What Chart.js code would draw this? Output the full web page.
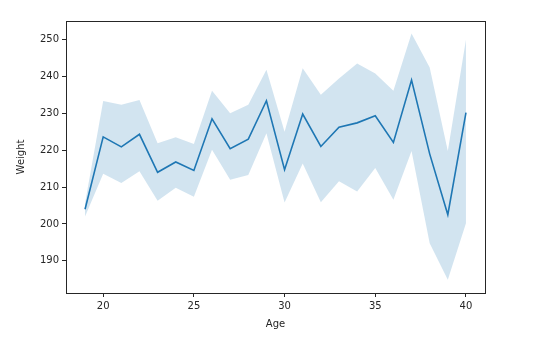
<!DOCTYPE html>
<html>
<head>
<meta charset="utf-8">
<script src="https://cdn.jsdelivr.net/npm/chart.js@4/dist/chart.umd.min.js"></script>
<style>
  html, body { margin: 0; padding: 0; background: #fff; }
  #wrap { width: 551px; height: 342px; }
</style>
</head>
<body>
<div id="wrap"><canvas id="c" width="551" height="342"></canvas></div>
<script>
// Age on x, mean weight with its confidence band
const ages = [19, 20, 21, 22, 23, 24, 25, 26, 27, 28, 29, 30, 31, 32, 33, 34, 35, 36, 37, 38, 39, 40];
const meanWeight = [204.0, 223.6, 220.9, 224.3, 214.0, 216.8, 214.5, 228.5, 220.4, 223.0, 233.4, 214.7, 229.8, 221.0, 226.2, 227.4, 229.3, 222.1, 239.0, 219.0, 202.5, 230.2];
const ciUpper = [205.6, 233.3, 232.3, 233.6, 221.9, 223.5, 221.7, 236.1, 230.0, 232.3, 241.8, 225.0, 242.2, 235.0, 239.4, 243.5, 240.8, 236.1, 251.6, 242.4, 219.8, 249.9];
const ciLower = [202.0, 213.6, 211.1, 214.3, 206.3, 209.8, 207.4, 220.1, 212.0, 213.3, 224.6, 205.8, 216.4, 205.9, 211.6, 208.8, 215.2, 206.6, 219.8, 194.8, 184.9, 200.2];
const xTicks = [20, 25, 30, 35, 40];
const yTicks = [190, 200, 210, 220, 230, 240, 250];

const pts = arr => ages.map((a, i) => ({ x: a, y: arr[i] }));
const ink = '#262626';
const font = { family: 'DejaVu Sans', size: 10 };

const frame = {
  id: 'frame',
  afterDraw(chart) {
    const { ctx, chartArea: a } = chart;
    ctx.save();
    ctx.strokeStyle = ink;
    ctx.lineWidth = 1;
    ctx.strokeRect(Math.round(a.left) + 0.5, Math.round(a.top) + 0.5,
                   Math.round(a.right - a.left), Math.round(a.bottom - a.top));
    ctx.restore();
  }
};

new Chart(document.getElementById('c'), {
  type: 'line',
  data: {
    datasets: [
      { data: pts(ciUpper), borderWidth: 0, borderColor: 'rgba(0,0,0,0)', pointRadius: 0,
        backgroundColor: 'rgba(31,119,180,0.2)', fill: '+1', tension: 0 },
      { data: pts(ciLower), borderWidth: 0, borderColor: 'rgba(0,0,0,0)', pointRadius: 0,
        fill: false, tension: 0 },
      { data: pts(meanWeight), borderColor: '#1f77b4', borderWidth: 1.6, pointRadius: 0,
        fill: false, tension: 0 }
    ]
  },
  options: {
    responsive: false,
    animation: false,
    events: [],
    layout: { padding: { left: 0, top: 21, right: 66, bottom: 0 } },
    plugins: { legend: { display: false }, tooltip: { enabled: false } },
    scales: {
      x: {
        type: 'linear', min: 17.95, max: 41.05,
        afterBuildTicks: s => { s.ticks = xTicks.map(v => ({ value: v })); },
        afterFit: s => { s.height = 49; },
        grid: { drawOnChartArea: false, tickLength: 4, color: ink, tickWidth: 1 },
        border: { display: true, color: ink, width: 1 },
        ticks: { color: ink, font, padding: 3, maxRotation: 0, autoSkip: false },
        title: { display: true, text: 'Age', color: ink, font, padding: { top: 0, bottom: 12 } }
      },
      y: {
        type: 'linear', min: 181.3, max: 255.0,
        afterBuildTicks: s => { s.ticks = yTicks.map(v => ({ value: v })); },
        afterFit: s => { s.width = 66; },
        grid: { drawOnChartArea: false, tickLength: 4, color: ink, tickWidth: 1 },
        border: { display: true, color: ink, width: 1 },
        ticks: { color: ink, font, padding: 3, autoSkip: false },
        title: { display: true, text: 'Weight', color: ink, font, padding: { top: 15, bottom: 0 } }
      }
    }
  },
  plugins: [frame]
});
</script>
</body>
</html>
